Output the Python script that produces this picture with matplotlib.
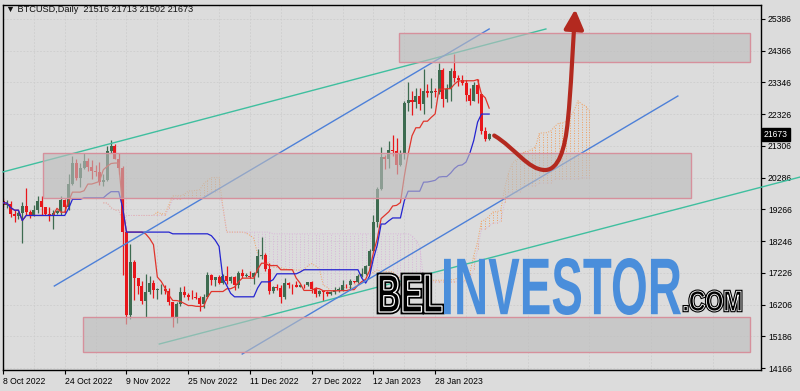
import numpy as np
import pandas as pd
import matplotlib
matplotlib.use("Agg")
import matplotlib.pyplot as plt
from matplotlib.patches import Rectangle, PathPatch, FancyArrowPatch, ArrowStyle
from matplotlib.path import Path
from matplotlib.textpath import TextPath
from matplotlib.font_manager import FontProperties
from matplotlib.transforms import Affine2D, blended_transform_factory
import matplotlib.patheffects as pe

# ---------------- data (daily BTCUSD, day 0 = 8 Oct 2022) ----------------
opens = [19530, 19420, 19450, 19130, 19060, 19150, 19380, 19180, 19070, 19260,
         19550, 19330, 19120, 19040, 19160, 19200, 19570, 19330, 20090, 20770,
         20290, 20600, 20810, 20630, 20490, 20480, 20150, 20210, 21150, 21300,
         20900, 20590, 18540, 15880, 17590, 17070, 16810, 16330, 16620, 16900,
         16660, 16690, 16700, 16630, 16280, 15780, 16220, 16600, 16520, 16460,
         16440, 16430, 16210, 16440, 17170, 16980, 17090, 16890, 17110, 16970,
         17090, 16840, 17220, 17130, 17130, 17090, 17210, 17770, 17810, 17360,
         16630, 16780, 16740, 16440, 16900, 16830, 16820, 16780, 16840, 16830,
         16920, 16710, 16540, 16630, 16600, 16540, 16620, 16670, 16670, 16850,
         16830, 16950, 16940, 17120, 17180, 17440, 17940, 18850, 19930, 20950,
         20870, 21190, 21130, 20680, 21080, 22670, 22780, 22710, 22920, 22640,
         23060, 23010, 23080, 23030, 23740, 22830, 23120, 23730, 23480, 23430,
         23330, 22930, 22760, 23250, 22960, 21800, 21516]
highs = [19620, 19560, 19520, 19260, 19220, 19510, 19950, 19230, 19420, 19680,
         19700, 19350, 19350, 19250, 19250, 19700, 19600, 20400, 20990, 20870,
         20750, 21080, 20920, 20840, 20700, 20800, 20390, 21300, 21480, 21360,
         21070, 20670, 18590, 18150, 17650, 17070, 16950, 17190, 17130, 17000,
         16740, 16870, 16820, 16730, 16290, 16300, 16760, 16810, 16580, 16670,
         16600, 16480, 16550, 17250, 17200, 17100, 17160, 17200, 17430, 17110,
         17130, 17300, 17350, 17230, 17270, 17240, 18000, 18390, 17850, 17530,
         16800, 16860, 16820, 17060, 16920, 16870, 16960, 16860, 16860, 16940,
         16970, 16780, 16660, 16640, 16650, 16630, 16760, 16770, 16980, 16880,
         17040, 16950, 17180, 17390, 17490, 17990, 19100, 19970, 21260, 21000,
         21470, 21650, 21560, 21190, 22750, 23370, 23080, 23160, 23160, 23790,
         23290, 23500, 23170, 23960, 23800, 23310, 23810, 24250, 23590, 23580,
         23430, 23160, 23350, 23450, 22990, 21930, 21713]
lows = [19330, 19320, 19020, 18860, 18960, 18190, 19070, 18980, 19060, 19160,
        19100, 19070, 18900, 18650, 19110, 19080, 19160, 19250, 20060, 20220,
        20000, 20560, 20510, 20240, 20350, 20050, 20030, 20180, 21080, 20880,
        20390, 17170, 15590, 15750, 16360, 16540, 16230, 15820, 16540, 16430,
        16400, 16550, 16560, 16180, 15480, 15620, 16170, 16460, 16350, 16400,
        16400, 16000, 16110, 16430, 16850, 16790, 16860, 16880, 16870, 16900,
        16680, 16730, 17060, 17090, 17070, 16870, 17080, 17660, 17280, 16530,
        16580, 16660, 16260, 16400, 16750, 16560, 16760, 16780, 16730, 16790,
        16590, 16460, 16490, 16330, 16490, 16500, 16550, 16610, 16650, 16750,
        16680, 16900, 16910, 17100, 17140, 17320, 17900, 18710, 19890, 20550,
        20610, 20980, 20410, 20660, 20880, 22420, 22300, 22520, 22460, 22330,
        22870, 22540, 22880, 22980, 22550, 22720, 22760, 23360, 23220, 23260,
        22740, 22630, 22750, 22680, 21690, 21450, 21502]
closes = [19420, 19450, 19130, 19060, 19150, 19380, 19180, 19070, 19260, 19550,
          19330, 19120, 19040, 19160, 19200, 19570, 19330, 20090, 20770, 20290,
          20600, 20810, 20630, 20490, 20480, 20150, 20210, 21150, 21300, 20900,
          20590, 18540, 15880, 17590, 17070, 16810, 16330, 16620, 16900, 16660,
          16690, 16700, 16630, 16280, 15780, 16220, 16600, 16520, 16460, 16440,
          16430, 16210, 16440, 17170, 16980, 17090, 16890, 17110, 16970, 17090,
          16840, 17220, 17130, 17130, 17090, 17210, 17770, 17810, 17360, 16630,
          16780, 16740, 16440, 16900, 16830, 16820, 16780, 16840, 16830, 16920,
          16710, 16540, 16630, 16600, 16540, 16620, 16670, 16670, 16850, 16830,
          16950, 16940, 17120, 17180, 17440, 17940, 18850, 19930, 20950, 20870,
          21190, 21130, 20680, 21080, 22670, 22780, 22710, 22920, 22640, 23060,
          23010, 23080, 23030, 23740, 22830, 23120, 23730, 23480, 23430, 23330,
          22930, 22760, 23250, 22960, 21800, 21516, 21673]

x_tick_days = [0, 16, 32, 48, 64, 80, 96, 112]
x_tick_labels = ["8 Oct 2022", "24 Oct 2022", "9 Nov 2022", "25 Nov 2022",
                 "11 Dec 2022", "27 Dec 2022", "12 Jan 2023", "28 Jan 2023"]
y_ticks = [14166, 15186, 16206, 17226, 18246, 19266, 20286, 21306,
           22326, 23346, 24366, 25386]

# zones: (day start, day end, price low, price high)
zones = [(102.7, 193.6, 24004, 24936),
         (10.4, 178.3, 19631, 21078),
         (20.8, 193.6, 14680, 15805)]
# trend lines: ((day, price), (day, price), colour)
trend_lines = [((0.0, 20470), (140.7, 25065), "#3fbf9f"),
               ((40.5, 14937), (206.6, 20306), "#3fbf9f"),
               ((13.3, 16802), (126.0, 25065), "#4d80d8"),
               ((62.0, 14616), (174.9, 22910), "#4d80d8")]
# hand-drawn forecast arrow (cubic bezier control points, day/price)
arrow_pts = [(127.3, 21640), (132.7, 21239), (136.1, 20531), (140.5, 20531),
             (143.9, 20531), (145.7, 21174), (146.4, 22139),
             (147.2, 23103), (147.7, 24550), (148.3, 25700)]

header = "\u25BC BTCUSD,Daily  21516 21713 21502 21673"
last_price = 21673

# ---------------- figure ----------------
BG = "#dcdcdc"
W, H = 800, 391
fig = plt.figure(figsize=(W / 100, H / 100), dpi=100, facecolor=BG)
ax = fig.add_axes([3 / W, 21 / H, 758 / W, 365 / H], facecolor=BG)

O = np.array(opens, float); Hh = np.array(highs, float)
L = np.array(lows, float); C = np.array(closes, float)
days = np.arange(len(O))

# Ichimoku
hs, ls = pd.Series(Hh), pd.Series(L)
tenkan = (hs.rolling(9, min_periods=1).max() + ls.rolling(9, min_periods=1).min()) / 2
kijun = (hs.rolling(26, min_periods=1).max() + ls.rolling(26, min_periods=1).min()) / 2
spanA = ((tenkan + kijun) / 2).values
spanB = ((hs.rolling(52, min_periods=1).max() + ls.rolling(52, min_periods=1).min()) / 2).values
cx = days + 26

# cloud
colsA = np.where(spanA >= spanB, "#f0a060", "#d9b6d9")
ax.vlines(cx, np.minimum(spanA, spanB), np.maximum(spanA, spanB), colors=colsA,
          linestyles=(0, (1, 1.6)), lw=0.7, zorder=1)
ax.plot(cx, spanA, color="#f0a060", lw=0.7, ls=(0, (1, 1.6)), zorder=1)
ax.plot(cx, spanB, color="#d9b6d9", lw=0.7, ls=(0, (1, 1.6)), zorder=1)

# candles
up = C >= O
ccol = np.where(up, "#3d6b50", "#e8161b")
ax.vlines(days, L, Hh, colors=ccol, lw=0.9, zorder=2)
ax.bar(days, np.maximum(np.abs(C - O), 20), bottom=np.minimum(O, C), width=0.78,
       color=ccol, lw=0, zorder=2.1)

# tenkan / kijun
ax.plot(days, tenkan, color="#e0352c", lw=0.9, zorder=3)
ax.plot(days, kijun, color="#2424d0", lw=0.9, zorder=3)

# trend lines
for (d0, p0), (d1, p1), col in trend_lines:
    ax.plot([d0, d1], [p0, p1], color=col, lw=1.0, zorder=3.2, clip_on=False)

# zones (semi-transparent, above candles)
for d0, d1, pl, ph in zones:
    ax.add_patch(Rectangle((d0, pl), d1 - d0, ph - pl, facecolor="#bdbdbd", alpha=0.62,
                           edgecolor="none", zorder=4))
    ax.add_patch(Rectangle((d0, pl), d1 - d0, ph - pl, facecolor="none",
                           edgecolor="#d6909c", lw=1.0, zorder=4.1))

# forecast arrow
codes = [Path.MOVETO] + [Path.CURVE4] * 9
arr = FancyArrowPatch(path=Path(arrow_pts, codes),
                      arrowstyle=ArrowStyle("-|>", head_length=0.9, head_width=0.45),
                      mutation_scale=13, color="#b3291f", lw=3.0, zorder=5,
                      capstyle="round", joinstyle="round")
ax.add_patch(arr)

# axes limits & ticks
ax.set_xlim(0.08, 196.45)
ax.set_ylim(14102, 25836)
ax.set_xticks(x_tick_days)
ax.set_xticklabels(x_tick_labels, ha="left", fontsize=6.2, family="Liberation Sans")
ax.set_xticks(np.arange(8, 197, 16), minor=True)
ax.yaxis.tick_right()
ax.set_yticks(y_ticks)
ax.set_yticklabels([str(v) for v in y_ticks], fontsize=6.2, family="Liberation Sans")
ax.tick_params(axis="both", which="major", direction="out", length=3, width=0.8, pad=2,
               colors="black")
ax.tick_params(axis="x", which="minor", length=0)
ax.grid(True, which="both", axis="x", color="#cdcdcd", lw=0.6, ls=(0, (2, 2)), zorder=0)
ax.grid(True, which="major", axis="y", color="#cdcdcd", lw=0.6, ls=(0, (2, 2)), zorder=0)
ax.set_axisbelow(True)
for s in ax.spines.values():
    s.set_color("black"); s.set_linewidth(1.0)

# current price label
tr = blended_transform_factory(ax.transAxes, ax.transData)
ax.text(1.004, last_price, str(last_price), transform=tr, ha="left", va="center",
        fontsize=6.2, family="Liberation Sans", color="white", zorder=6, clip_on=False,
        bbox=dict(boxstyle="square,pad=0.2", fc="black", ec="black"))

# header
fig.text(6 / W, 1 - 10 / H, header, ha="left", va="center", fontsize=6.6,
         family=["Liberation Sans", "DejaVu Sans"], color="#111111")

# logo (fitted text paths, pixel boxes from top-left)
def fit_text(s, x0, y0, x1, y1, **kw):
    fp = FontProperties(family=["Liberation Sans Narrow", "Liberation Sans", "DejaVu Sans"],
                        weight="bold")
    tp = TextPath((0, 0), s, size=10, prop=fp)
    ext = tp.get_extents()
    sx = (x1 - x0) / ext.width / W
    sy = (y1 - y0) / ext.height / H
    t = Affine2D().translate(-ext.x0, -ext.y0).scale(sx, sy).translate(x0 / W, 1 - y1 / H)
    p = PathPatch(tp, transform=t + fig.transFigure, **kw)
    fig.add_artist(p)
    return p

outline = [pe.withStroke(linewidth=3.4, foreground="black")]
fit_text("BEL", 379, 275, 442, 312, facecolor="black", edgecolor="white", lw=0.9,
         path_effects=outline, zorder=10)
fit_text("INVESTOR", 444, 258, 681, 315, facecolor="#4a8edb", edgecolor="none", zorder=10)
fit_text(".COM", 684, 291, 741, 311, facecolor="black", edgecolor="white", lw=0.6,
         path_effects=[pe.withStroke(linewidth=2.2, foreground="black")], zorder=10)

fig.savefig("out.png", dpi=100, facecolor=BG)
